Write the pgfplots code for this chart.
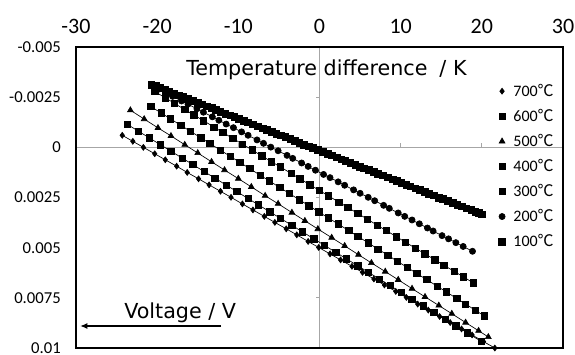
\documentclass[border=0pt]{standalone}
\usepackage{pgfplots}
\pgfplotsset{compat=1.18}
\usepackage{fontspec}
\setmainfont{Carlito}
\newfontfamily\dejavu{DejaVu Sans}
\newfontfamily\cjk{Noto Sans CJK JP}
\usetikzlibrary{arrows.meta}
\newcommand{\degC}{{\cjk ℃}}
\begin{document}
\begin{tikzpicture}
\useasboundingbox (0,0) rectangle (431.25pt,265.5pt);
\begin{axis}[
  at={(57pt,4.5pt)}, anchor=south west,
  width=365.25pt, height=225.75pt, scale only axis,
  xmin=-30, xmax=30, ymin=-0.005, ymax=0.01, y dir=reverse,
  xtick={-30,-20,-10,0,10,20,30}, xticklabels={-30,-20,-10,0,10,20,30},
  ytick={-0.005,-0.0025,0,0.0025,0.005,0.0075,0.01},
  yticklabels={-0.005,-0.0025,0,0.0025,0.005,0.0075,0.01},
  scaled y ticks=false, scaled x ticks=false,
  xticklabel pos=right,
  major tick length=0pt, tick style={draw=none},
  axis line style={draw=none},
  xticklabel style={font=\fontsize{16.5}{18}\selectfont, anchor=base, inner sep=0pt, yshift=10.5pt},
  yticklabel style={font=\fontsize{12.5}{14}\selectfont, anchor=east, inner sep=0pt, xshift=-11.25pt},
  clip=false,
  legend image code/.code={\draw[#1] plot coordinates {(0pt,0pt)};},
  legend cell align=left,
  legend style={at={(axis cs:22.05,-0.00306)}, anchor=north west, draw=none, fill=none,
    font=\fontsize{12}{13}\selectfont, row sep=11.3pt, column sep=6pt, inner sep=0pt,
    nodes={inner sep=0pt, text height=7.5pt, text depth=0pt}},
  every axis plot/.append style={black, line width=0.5pt, mark options={solid, fill=black}},
]
\draw[gray!70, line width=0.8pt] (axis cs:-30,0) -- (axis cs:30,0);
\draw[gray!70, line width=0.8pt] (axis cs:0,-0.005) -- (axis cs:0,0.01);
\draw[gray!70, line width=0.8pt] (axis cs:-20,0) -- ++(0pt,3.5pt);
\draw[gray!70, line width=0.8pt] (axis cs:-10,0) -- ++(0pt,3.5pt);
\draw[gray!70, line width=0.8pt] (axis cs:10,0) -- ++(0pt,3.5pt);
\draw[gray!70, line width=0.8pt] (axis cs:20,0) -- ++(0pt,3.5pt);
\draw[gray!70, line width=0.8pt] (axis cs:0,-0.0025) -- ++(-3pt,0pt);
\draw[gray!70, line width=0.8pt] (axis cs:0,0.0025) -- ++(-3pt,0pt);
\draw[gray!70, line width=0.8pt] (axis cs:0,0.005) -- ++(-3pt,0pt);
\draw[gray!70, line width=0.8pt] (axis cs:0,0.0075) -- ++(-3pt,0pt);
\draw[black, line width=1.1pt] (axis cs:-30,-0.005) rectangle (axis cs:30,0.01);

% 700
\addplot[mark=diamond*, mark size=2.2pt] coordinates {
(-24.3,-0.00060) (-23.0,-0.00030) (-21.7,0.00000) (-20.3,0.00032) (-19.0,0.00062)
(-17.6,0.00094) (-16.3,0.00125) (-14.9,0.00157) (-13.6,0.00187) (-12.2,0.00219)
(-10.9,0.00249) (-9.5,0.00282) (-8.2,0.00312) (-6.8,0.00344) (-5.5,0.00374)
(-4.1,0.00406) (-2.8,0.00436) (-1.4,0.00469) (-0.1,0.00499) (1.3,0.00531)
(2.6,0.00561) (4.0,0.00593) (5.3,0.00623) (6.7,0.00656) (8.0,0.00686)
(9.4,0.00718) (10.7,0.00748) (12.1,0.00781) (13.4,0.00811) (14.8,0.00843)
(16.1,0.00873) (17.5,0.00905) (18.8,0.00935) (20.2,0.00968) (21.6,0.01000)};
\addlegendentry{700\degC}
% 600
\addplot[mark=square*, mark size=2.4pt] coordinates {
(-23.65,-0.00114) (-22.3,-0.00080) (-21.0,-0.00048) (-19.6,-0.00013) (-18.3,0.00019)
(-16.9,0.00054) (-15.6,0.00086) (-14.2,0.00121) (-12.9,0.00153) (-11.5,0.00188)
(-10.2,0.00220) (-8.8,0.00255) (-7.5,0.00287) (-6.1,0.00322) (-4.8,0.00354)
(-3.4,0.00389) (-2.1,0.00421) (-0.7,0.00456) (0.6,0.00488) (2.0,0.00523)
(3.3,0.00555) (4.7,0.00590) (6.0,0.00622) (7.4,0.00657) (8.7,0.00689)
(10.1,0.00724) (11.4,0.00756) (12.8,0.00790) (14.1,0.00823) (15.5,0.00857)
(16.8,0.00890) (18.2,0.00924) (19.96,0.00968)};
\addlegendentry{600\degC}
% 500
\addplot[mark=triangle*, mark size=2.5pt] coordinates {
(-23.3,-0.00185) (-21.6,-0.00141) (-19.9,-0.00097) (-18.3,-0.00057) (-16.6,-0.00013)
(-15.0,0.00028) (-13.3,0.00072) (-11.7,0.00113) (-10.0,0.00156) (-8.4,0.00197)
(-6.7,0.00241) (-5.1,0.00281) (-3.4,0.00325) (-1.8,0.00366) (-0.2,0.00407)
(1.5,0.00450) (3.1,0.00491) (4.8,0.00535) (6.4,0.00576) (8.1,0.00619)
(9.7,0.00660) (11.4,0.00704) (13.0,0.00745) (14.7,0.00788) (16.3,0.00829)
(18.0,0.00873) (19.6,0.00914) (20.8,0.00945)};
\addlegendentry{500\degC}
% 400
\addplot[mark=square*, mark size=2.4pt] coordinates {
(-20.8,-0.00204) (-19.5,-0.00171) (-18.4,-0.00143) (-17.1,-0.00110) (-15.9,-0.00080)
(-14.6,-0.00047) (-13.5,-0.00019) (-12.2,0.00014) (-11.0,0.00045) (-9.8,0.00075)
(-8.6,0.00106) (-7.3,0.00139) (-6.2,0.00167) (-4.9,0.00200) (-3.7,0.00230)
(-2.5,0.00261) (-1.3,0.00291) (-0.1,0.00322) (1.1,0.00352) (2.3,0.00382)
(3.6,0.00415) (4.7,0.00443) (6.0,0.00476) (7.2,0.00507) (8.4,0.00537)
(9.6,0.00568) (10.8,0.00598) (12.0,0.00629) (13.2,0.00659) (14.5,0.00692)
(15.6,0.00720) (16.9,0.00753) (18.0,0.00781) (19.2,0.00812) (20.3,0.00840)};
\addlegendentry{400\degC}
% 300
\addplot[mark=square*, mark size=2.4pt] coordinates {
(-20.3,-0.00278) (-19.0,-0.00247) (-17.9,-0.00220) (-16.6,-0.00188) (-15.5,-0.00162)
(-14.3,-0.00133) (-13.0,-0.00101) (-11.9,-0.00074) (-10.7,-0.00045) (-9.5,-0.00016)
(-8.3,0.00013) (-7.1,0.00043) (-5.9,0.00072) (-4.8,0.00098) (-3.5,0.00130)
(-2.4,0.00157) (-1.2,0.00186) (0.0,0.00215) (1.1,0.00242) (2.4,0.00273)
(3.5,0.00300) (4.7,0.00329) (5.9,0.00358) (7.1,0.00388) (8.2,0.00414)
(9.5,0.00446) (10.6,0.00473) (11.8,0.00502) (13.0,0.00531) (14.2,0.00560)
(15.3,0.00587) (16.6,0.00618) (17.7,0.00645) (18.97,0.00676)};
\addlegendentry{300\degC}
% 200
\addplot[mark=*, mark size=2.3pt] coordinates {
(-20.7,-0.00309) (-19.8,-0.00290) (-18.9,-0.00271) (-18.1,-0.00254) (-17.0,-0.00231)
(-16.2,-0.00215) (-15.1,-0.00192) (-14.3,-0.00175) (-13.2,-0.00152) (-12.4,-0.00135)
(-11.5,-0.00116) (-10.6,-0.00098) (-9.6,-0.00077) (-8.8,-0.00060) (-7.7,-0.00037)
(-6.9,-0.00020) (-6.0,-0.00001) (-5.1,0.00017) (-4.0,0.00040) (-3.3,0.00055)
(-2.2,0.00078) (-1.4,0.00095) (-0.5,0.00114) (0.5,0.00135) (1.3,0.00151)
(2.3,0.00172) (3.1,0.00189) (4.2,0.00212) (5.0,0.00229) (6.0,0.00249)
(6.8,0.00266) (7.9,0.00289) (8.6,0.00304) (9.7,0.00327) (10.5,0.00344)
(11.4,0.00362) (12.3,0.00381) (13.3,0.00402) (14.0,0.00417) (15.1,0.00440)
(15.9,0.00456) (16.8,0.00475) (17.7,0.00494) (18.85,0.00518)};
\addlegendentry{200\degC}
% 100
\addplot[mark=square*, mark size=2.5pt] coordinates {
(-20.7,-0.00313) (-20.2,-0.00305) (-19.6,-0.00296) (-19.0,-0.00286) (-18.5,-0.00278)
(-17.9,-0.00269) (-17.3,-0.00259) (-16.8,-0.00251) (-16.2,-0.00242) (-15.6,-0.00232)
(-15.0,-0.00223) (-14.5,-0.00215) (-13.9,-0.00205) (-13.3,-0.00196) (-12.8,-0.00188)
(-12.2,-0.00178) (-11.6,-0.00168) (-11.0,-0.00159) (-10.5,-0.00151) (-9.9,-0.00141)
(-9.3,-0.00132) (-8.8,-0.00124) (-8.2,-0.00114) (-7.6,-0.00105) (-7.0,-0.00095)
(-6.5,-0.00087) (-5.9,-0.00078) (-5.3,-0.00068) (-4.8,-0.00060) (-4.2,-0.00051)
(-3.6,-0.00041) (-3.0,-0.00032) (-2.5,-0.00024) (-1.9,-0.00014) (-1.3,-0.00005)
(-0.8,0.00003) (-0.2,0.00013) (0.4,0.00022) (1.0,0.00032) (1.5,0.00040)
(2.1,0.00049) (2.7,0.00059) (3.2,0.00067) (3.8,0.00076) (4.4,0.00086)
(5.0,0.00096) (5.5,0.00104) (6.1,0.00113) (6.7,0.00123) (7.2,0.00131)
(7.8,0.00140) (8.4,0.00150) (9.0,0.00159) (9.5,0.00167) (10.1,0.00177)
(10.7,0.00186) (11.2,0.00194) (11.8,0.00204) (12.4,0.00213) (13.0,0.00223)
(13.5,0.00231) (14.1,0.00240) (14.7,0.00250) (15.2,0.00258) (15.8,0.00267)
(16.4,0.00277) (17.0,0.00286) (17.5,0.00294) (18.1,0.00304) (18.7,0.00313)
(19.2,0.00321) (19.6,0.00328) (20.0,0.00334)};
\addlegendentry{100\degC}
\end{axis}
\node[font=\dejavu\fontsize{15.5}{17}\selectfont, anchor=base west, inner sep=0pt] at (139.5pt,208.5pt) {Temperature difference\hspace{9pt}/ K};
\node[font=\dejavu\fontsize{15.5}{17}\selectfont, anchor=base west, inner sep=0pt] at (93pt,27pt) {Voltage / V};
\draw[line width=1.4pt, -{Latex[length=5.5pt,width=4.5pt]}] (165.75pt,21pt) -- (60pt,21pt);
\end{tikzpicture}
\end{document}
